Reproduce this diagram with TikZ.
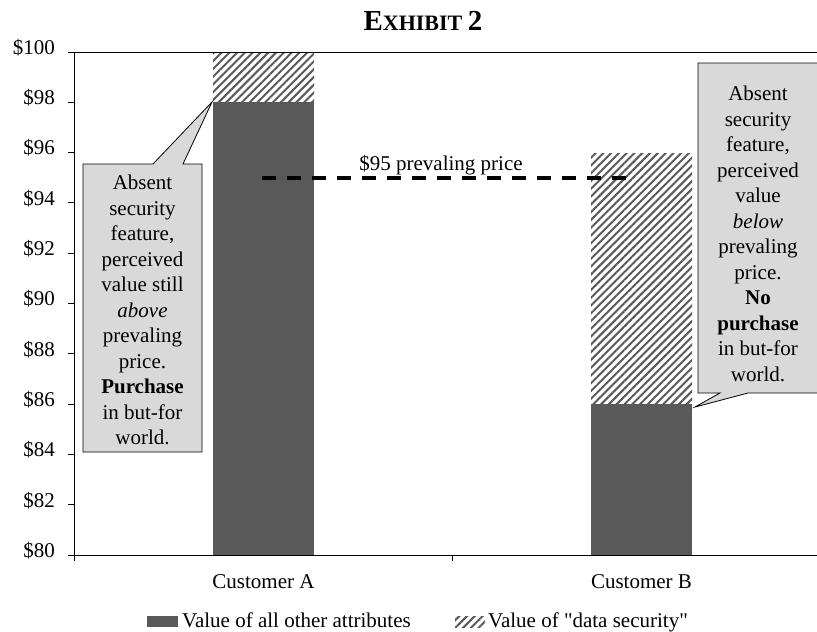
\documentclass[tikz,border=0pt]{standalone}
\usepackage{fontspec}
\setmainfont{Liberation Serif}
\newfontfamily\plainquote{Liberation Serif}[Ligatures=ResetAll]
\usetikzlibrary{patterns.meta}
\definecolor{barGray}{HTML}{595959}
\definecolor{calloutGray}{HTML}{D9D9D9}
\tikzset{
  darkbar/.style={fill=barGray, draw=none},
  hatchbar/.style={pattern={Lines[angle=45,distance=5.5pt,line width=2pt]}, pattern color=barGray},
  axisline/.style={draw=black, line width=1pt},
  callout/.style={fill=calloutGray, draw=black, line width=0.8pt, line join=miter},
  calltext/.style={align=center, font=\fontsize{21}{25.5}\selectfont, inner sep=0pt},
  ylbl/.style={anchor=mid east, font=\fontsize{21}{24}\selectfont, inner sep=0pt},
  catlbl/.style={anchor=base, font=\fontsize{21}{24}\selectfont, inner sep=0pt},
  leglbl/.style={anchor=base west, font=\fontsize{21}{24}\selectfont, inner sep=0pt},
  pricedash/.style={draw=black, line width=3.5pt, dash pattern=on 14pt off 11pt},
}
\begin{document}
\begin{tikzpicture}[x=1pt,y=-1pt]
\useasboundingbox (0,0) rectangle (817,632);
\clip (0,0) rectangle (817,632);
% title
\node[anchor=base, inner sep=0pt, font=\bfseries] (title) at (423,30)
  {\fontsize{29}{30}\selectfont E\fontsize{22}{24}\selectfont XHIBIT \fontsize{29}{30}\selectfont 2};
% bars
\fill[darkbar] (213,102) rectangle (314,555);
\fill[hatchbar] (213,52) rectangle (314,102);
\fill[darkbar] (591,404) rectangle (692,555);
\fill[hatchbar] (591,153) rectangle (692,404);
\coordinate (tipA) at (212,102);
\coordinate (tipB) at (695,407);
% axes
\draw[axisline] (74,52) -- (74,561);
\draw[axisline] (74,52) -- (830,52);
\draw[axisline] (68,555) -- (830,555);
\foreach \xx in {452,830} \draw[axisline] (\xx,555) -- (\xx,561);
\foreach \k in {0,...,10} {
  \pgfmathsetmacro{\yy}{555-50.3*\k}
  \pgfmathtruncatemacro{\vv}{80+2*\k}
  \draw[axisline] (68,\yy) -- (74,\yy);
  \node[ylbl] (yl\k) at (55,\yy) {\$\vv};
}
% categories
\node[catlbl] (catA) at (263.5,588) {Customer A};
\node[catlbl] (catB) at (641.5,588) {Customer B};
% price line
\coordinate (pl) at (262,178);
\coordinate (pr) at (630,178);
\draw[pricedash] (pl) -- (pr);
\node[anchor=base, inner sep=0pt, font=\fontsize{21}{24}\selectfont] (plabel) at (441,170) {\$95 prevaling price};
% callout A
\draw[callout] (83,164) -- (153,164) -- (tipA) -- (183,164) -- (202,164) -- (202,452) -- (83,452) -- cycle;
\node[calltext] (textA) at (142.5,310)
  {Absent\\security\\feature,\\perceived\\value still\\\textit{above}\\prevaling\\price.\\\textbf{Purchase}\\in but-for\\world.};
% callout B
\draw[callout] (698,63) -- (819,63) -- (819,393) -- (748,393) -- (tipB) -- (720,393) -- (698,393) -- cycle;
\node[calltext] (textB) at (758,234)
  {Absent\\security\\feature,\\perceived\\value\\\textit{below}\\prevaling\\price.\\\textbf{No}\\\textbf{purchase}\\in but-for\\world.};
% legend
\fill[darkbar] (147,616) rectangle (178,627);
\node[leglbl] (legA) at (182,627) {Value of all other attributes};
\fill[hatchbar] (455,616) rectangle (485,627);
\node[leglbl] (legB) at (488,627) {Value of {\plainquote "}data security{\plainquote "}};
\end{tikzpicture}
\end{document}
